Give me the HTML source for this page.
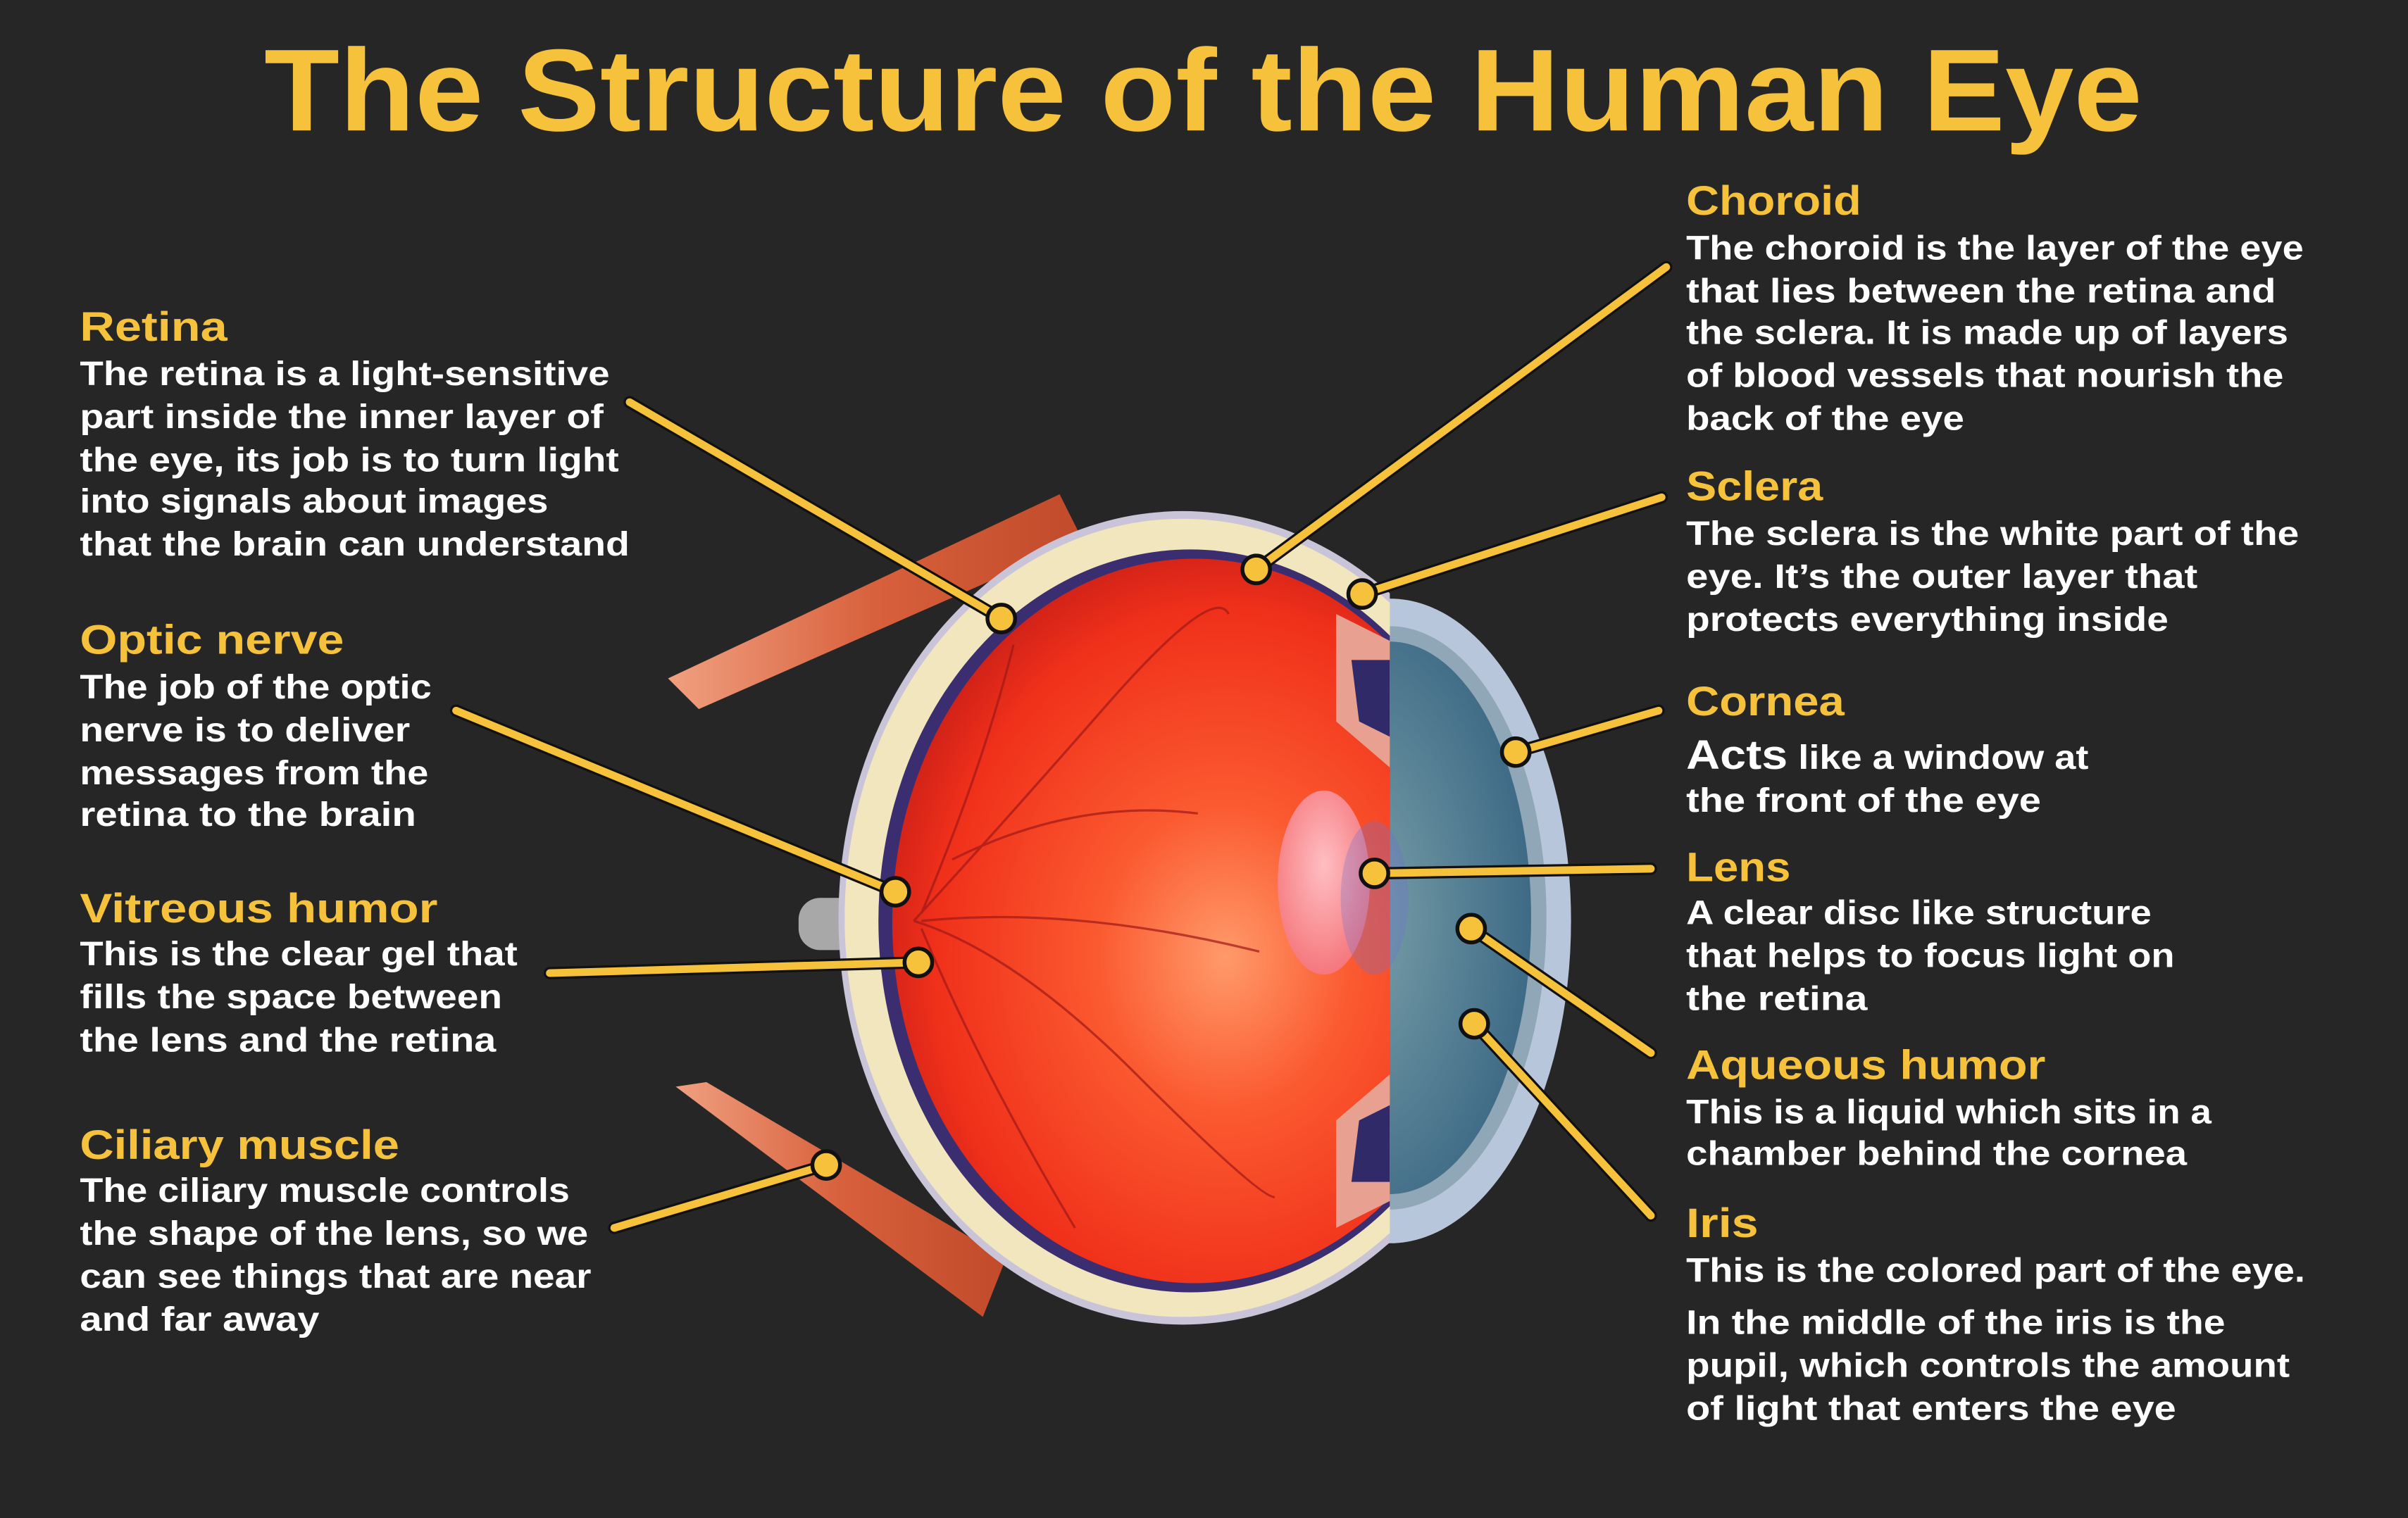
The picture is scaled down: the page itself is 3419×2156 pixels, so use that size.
<!DOCTYPE html>
<html><head><meta charset="utf-8"><style>
html,body{margin:0;padding:0;background:#262626;}
svg{display:block}
text{font-family:"Liberation Sans",sans-serif;font-weight:bold;}
.h{fill:#f6c23b;font-size:27px}
.b{fill:#ffffff;font-size:22px}
</style></head><body>
<svg width="3419" height="2156" viewBox="0 0 1568 989" preserveAspectRatio="none" xmlns="http://www.w3.org/2000/svg">
<defs>
<radialGradient id="red" cx="0.55" cy="0.55" r="0.6">
<stop offset="0" stop-color="#ff9a6a"/><stop offset="0.35" stop-color="#fb5a30"/><stop offset="0.8" stop-color="#f0301a"/><stop offset="1" stop-color="#c81e18"/></radialGradient>
<radialGradient id="iris" cx="0.4" cy="0.5" r="0.6"><stop offset="0" stop-color="#7aa0a8"/><stop offset="1" stop-color="#3e6a86"/></radialGradient>
<radialGradient id="lens" cx="0.5" cy="0.4" r="0.6"><stop offset="0" stop-color="#ffd0dc"/><stop offset="1" stop-color="#f47a88"/></radialGradient>
<linearGradient id="mus" x1="0" y1="0" x2="1" y2="0"><stop offset="0" stop-color="#f0a080"/><stop offset="0.5" stop-color="#d8603c"/><stop offset="1" stop-color="#c04a2a"/></linearGradient>
<clipPath id="cut"><rect x="0" y="0" width="905" height="989"/></clipPath>
<clipPath id="front"><rect x="895" y="0" width="300" height="989"/></clipPath>
</defs>
<rect width="1568" height="989" fill="#262626"/>
<text x="172" y="85" font-size="76" fill="#f6c23b" textLength="1223" lengthAdjust="spacingAndGlyphs" style="font-weight:bold">The Structure of the Human Eye</text>

<!-- muscles -->
<path d="M435,442 L690,322 L705,352 L455,462 Z" fill="url(#mus)"/>
<path d="M440,708 L460,705 L655,820 L640,858 Z" fill="url(#mus)"/>
<!-- optic nerve stub -->
<rect x="520" y="585" width="40" height="34" rx="14" fill="#a8a8a8"/>

<!-- cornea front -->
<g clip-path="url(#front)">
<ellipse cx="905" cy="600" rx="118" ry="210" fill="#b8c6dc"/>
<ellipse cx="905" cy="598" rx="102" ry="190" fill="#8fa7b6"/>
<ellipse cx="905" cy="598" rx="92" ry="180" fill="url(#iris)"/>
</g>
<!-- globe -->
<g clip-path="url(#cut)">
<ellipse cx="770" cy="598" rx="224" ry="265" fill="#c9c4d8"/>
<ellipse cx="770" cy="598" rx="220" ry="260" fill="#f1e6be"/>
<ellipse cx="775" cy="600" rx="203" ry="242" fill="#3a2e70"/>
<ellipse cx="778" cy="600" rx="197" ry="236" fill="url(#red)"/>
<path d="M870,400 L910,420 L905,500 L870,470 Z" fill="#e8a090"/>
<path d="M880,430 L905,430 L905,480 L885,470 Z" fill="#302a68"/>
<path d="M870,800 L910,780 L905,700 L870,730 Z" fill="#e8a090"/>
<path d="M880,770 L905,770 L905,720 L885,730 Z" fill="#302a68"/>
<g stroke="#a01818" stroke-width="1.5" fill="none" opacity="0.7">
<path d="M595,600 Q650,540 720,460 T800,400"/><path d="M595,600 Q660,620 740,700 T830,780"/>
<path d="M600,595 Q640,500 660,420"/><path d="M600,605 Q640,700 700,800"/>
<path d="M600,600 Q700,590 820,620"/><path d="M620,560 Q700,520 780,530"/>
</g>
</g>
<ellipse cx="862" cy="575" rx="30" ry="60" fill="url(#lens)" opacity="0.85"/>
<ellipse cx="895" cy="585" rx="22" ry="50" fill="#7070d0" opacity="0.3"/>

<!-- connectors -->
<g stroke-linecap="round">
<g stroke="#111" stroke-width="8">
<line x1="410" y1="262" x2="652" y2="403"/><line x1="297" y1="463" x2="583" y2="581"/>
<line x1="358" y1="634" x2="598" y2="627"/><line x1="400" y1="800" x2="538" y2="759"/>
<line x1="1085" y1="174" x2="818" y2="371"/><line x1="1082" y1="324" x2="887" y2="387"/>
<line x1="1080" y1="463" x2="987" y2="490"/><line x1="1075" y1="566" x2="895" y2="569"/>
<line x1="1075" y1="686" x2="958" y2="605"/><line x1="1075" y1="792" x2="960" y2="667"/>
</g>
<g stroke="#f6c23b" stroke-width="5">
<line x1="410" y1="262" x2="652" y2="403"/><line x1="297" y1="463" x2="583" y2="581"/>
<line x1="358" y1="634" x2="598" y2="627"/><line x1="400" y1="800" x2="538" y2="759"/>
<line x1="1085" y1="174" x2="818" y2="371"/><line x1="1082" y1="324" x2="887" y2="387"/>
<line x1="1080" y1="463" x2="987" y2="490"/><line x1="1075" y1="566" x2="895" y2="569"/>
<line x1="1075" y1="686" x2="958" y2="605"/><line x1="1075" y1="792" x2="960" y2="667"/>
</g>
<g fill="#f6c23b" stroke="#111" stroke-width="2.5">
<circle cx="652" cy="403" r="9"/><circle cx="583" cy="581" r="9"/><circle cx="598" cy="627" r="9"/>
<circle cx="538" cy="759" r="9"/><circle cx="818" cy="371" r="9"/><circle cx="887" cy="387" r="9"/>
<circle cx="987" cy="490" r="9"/><circle cx="895" cy="569" r="9"/><circle cx="958" cy="605" r="9"/>
<circle cx="960" cy="667" r="9"/>
</g>
</g>

<!-- left text -->
<text class="h" x="52" y="222" textLength="96" lengthAdjust="spacingAndGlyphs">Retina</text>
<text class="b" x="52" y="251" textLength="345" lengthAdjust="spacingAndGlyphs">The retina is a light-sensitive</text>
<text class="b" x="52" y="279" textLength="341" lengthAdjust="spacingAndGlyphs">part inside the inner layer of</text>
<text class="b" x="52" y="307" textLength="351" lengthAdjust="spacingAndGlyphs">the eye, its job is to turn light</text>
<text class="b" x="52" y="334" textLength="305" lengthAdjust="spacingAndGlyphs">into signals about images</text>
<text class="b" x="52" y="362" textLength="358" lengthAdjust="spacingAndGlyphs">that the brain can understand</text>

<text class="h" x="52" y="426" textLength="172" lengthAdjust="spacingAndGlyphs">Optic nerve</text>
<text class="b" x="52" y="455" textLength="229" lengthAdjust="spacingAndGlyphs">The job of the optic</text>
<text class="b" x="52" y="483" textLength="215" lengthAdjust="spacingAndGlyphs">nerve is to deliver</text>
<text class="b" x="52" y="511" textLength="227" lengthAdjust="spacingAndGlyphs">messages from the</text>
<text class="b" x="52" y="538" textLength="219" lengthAdjust="spacingAndGlyphs">retina to the brain</text>

<text class="h" x="52" y="601" textLength="233" lengthAdjust="spacingAndGlyphs">Vitreous humor</text>
<text class="b" x="52" y="629" textLength="285" lengthAdjust="spacingAndGlyphs">This is the clear gel that</text>
<text class="b" x="52" y="657" textLength="275" lengthAdjust="spacingAndGlyphs">fills the space between</text>
<text class="b" x="52" y="685" textLength="271" lengthAdjust="spacingAndGlyphs">the lens and the retina</text>

<text class="h" x="52" y="755" textLength="208" lengthAdjust="spacingAndGlyphs">Ciliary muscle</text>
<text class="b" x="52" y="783" textLength="319" lengthAdjust="spacingAndGlyphs">The ciliary muscle controls</text>
<text class="b" x="52" y="811" textLength="331" lengthAdjust="spacingAndGlyphs">the shape of the lens, so we</text>
<text class="b" x="52" y="839" textLength="333" lengthAdjust="spacingAndGlyphs">can see things that are near</text>
<text class="b" x="52" y="867" textLength="156" lengthAdjust="spacingAndGlyphs">and far away</text>

<!-- right text -->
<text class="h" x="1098" y="140" textLength="114" lengthAdjust="spacingAndGlyphs">Choroid</text>
<text class="b" x="1098" y="169" textLength="402" lengthAdjust="spacingAndGlyphs">The choroid is the layer of the eye</text>
<text class="b" x="1098" y="197" textLength="384" lengthAdjust="spacingAndGlyphs">that lies between the retina and</text>
<text class="b" x="1098" y="224" textLength="392" lengthAdjust="spacingAndGlyphs">the sclera. It is made up of layers</text>
<text class="b" x="1098" y="252" textLength="389" lengthAdjust="spacingAndGlyphs">of blood vessels that nourish the</text>
<text class="b" x="1098" y="280" textLength="181" lengthAdjust="spacingAndGlyphs">back of the eye</text>

<text class="h" x="1098" y="326" textLength="89" lengthAdjust="spacingAndGlyphs">Sclera</text>
<text class="b" x="1098" y="355" textLength="399" lengthAdjust="spacingAndGlyphs">The sclera is the white part of the</text>
<text class="b" x="1098" y="383" textLength="333" lengthAdjust="spacingAndGlyphs">eye. It’s the outer layer that</text>
<text class="b" x="1098" y="411" textLength="314" lengthAdjust="spacingAndGlyphs">protects everything inside</text>

<text class="h" x="1098" y="466" textLength="103" lengthAdjust="spacingAndGlyphs">Cornea</text>
<text class="b" x="1098" y="501" textLength="262" lengthAdjust="spacingAndGlyphs"><tspan font-size="27">Acts</tspan> like a window at</text>
<text class="b" x="1098" y="529" textLength="231" lengthAdjust="spacingAndGlyphs">the front of the eye</text>

<text class="h" x="1098" y="574" textLength="68" lengthAdjust="spacingAndGlyphs">Lens</text>
<text class="b" x="1098" y="602" textLength="303" lengthAdjust="spacingAndGlyphs">A clear disc like structure</text>
<text class="b" x="1098" y="630" textLength="318" lengthAdjust="spacingAndGlyphs">that helps to focus light on</text>
<text class="b" x="1098" y="658" textLength="118" lengthAdjust="spacingAndGlyphs">the retina</text>

<text class="h" x="1098" y="703" textLength="234" lengthAdjust="spacingAndGlyphs">Aqueous humor</text>
<text class="b" x="1098" y="732" textLength="342" lengthAdjust="spacingAndGlyphs">This is a liquid which sits in a</text>
<text class="b" x="1098" y="759" textLength="326" lengthAdjust="spacingAndGlyphs">chamber behind the cornea</text>

<text class="h" x="1098" y="806" textLength="47" lengthAdjust="spacingAndGlyphs">Iris</text>
<text class="b" x="1098" y="835" textLength="403" lengthAdjust="spacingAndGlyphs">This is the colored part of the eye.</text>
<text class="b" x="1098" y="869" textLength="351" lengthAdjust="spacingAndGlyphs">In the middle of the iris is the</text>
<text class="b" x="1098" y="897" textLength="393" lengthAdjust="spacingAndGlyphs">pupil, which controls the amount</text>
<text class="b" x="1098" y="925" textLength="319" lengthAdjust="spacingAndGlyphs">of light that enters the eye</text>
</svg>
</body></html>
